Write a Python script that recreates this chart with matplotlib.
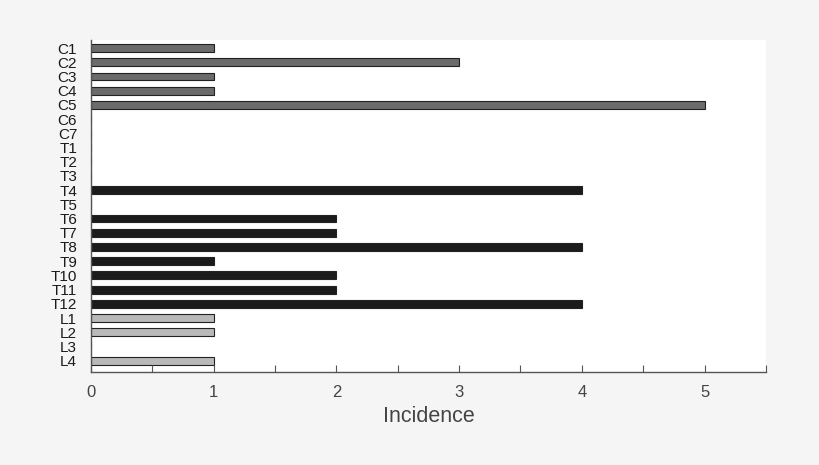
import numpy as np
import matplotlib.pyplot as plt

plt.rcParams['font.family'] = ['Liberation Sans', 'DejaVu Sans']

cervical = ['C1', 'C2', 'C3', 'C4', 'C5', 'C6', 'C7']
thoracic = ['T1', 'T2', 'T3', 'T4', 'T5', 'T6', 'T7', 'T8', 'T9', 'T10', 'T11', 'T12']
lumbar = ['L1', 'L2', 'L3', 'L4']

cervical_vals = [1, 3, 1, 1, 5, 0, 0]
thoracic_vals = [0, 0, 0, 4, 0, 2, 2, 4, 1, 2, 2, 4]
lumbar_vals = [1, 1, 0, 1]

labels = cervical + thoracic + lumbar
values = cervical_vals + thoracic_vals + lumbar_vals
colors = (['#6b6b6b'] * len(cervical) + ['#1b1b1b'] * len(thoracic)
          + ['#b9b9b9'] * len(lumbar))

fig = plt.figure(figsize=(8.2, 4.65), dpi=100, facecolor='#f5f5f5')
ax = fig.add_axes([0.111, 0.2, 0.823, 0.714])
ax.set_facecolor('white')

y = np.arange(len(labels))
ax.barh(y, values, height=0.55, color=colors, edgecolor='#222222', linewidth=0.8)

ax.set_ylim(len(labels) - 0.2, -0.57)
ax.set_xlim(0, 5.5)
ax.set_yticks(y)
ax.set_yticklabels(labels, fontsize=11, color='#1a1a1a')
ax.tick_params(axis='y', length=0, pad=10)

ticks = np.arange(0, 5.51, 0.5)
ax.set_xticks(ticks)
ax.set_xticklabels([str(int(t)) if t == int(t) else '' for t in ticks],
                   fontsize=12, color='#444444')
ax.tick_params(axis='x', direction='in', length=5, width=0.8, color='#555555', pad=9)

for side in ['top', 'right']:
    ax.spines[side].set_visible(False)
for side in ['left', 'bottom']:
    ax.spines[side].set_color('#555555')
    ax.spines[side].set_linewidth(1.0)

ax.set_xlabel('Incidence', fontsize=15.5, color='#444444', labelpad=5)

fig.savefig('out.png', dpi=100, facecolor=fig.get_facecolor())
